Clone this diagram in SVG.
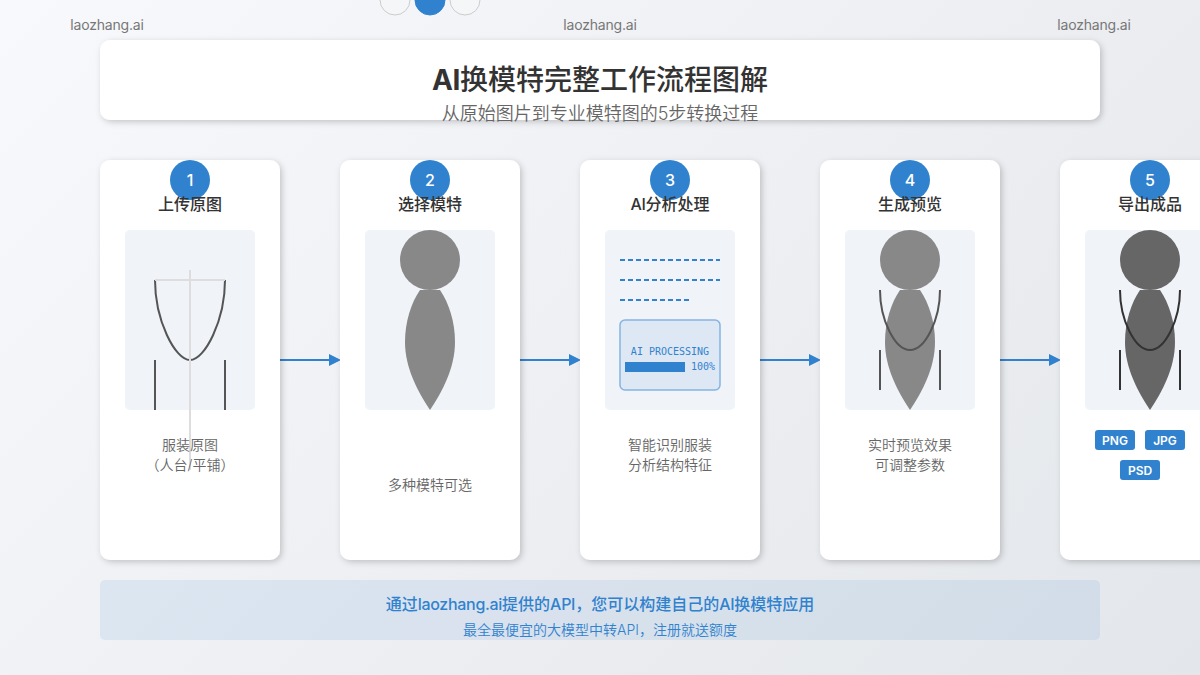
<svg xmlns="http://www.w3.org/2000/svg" width="1200" height="675" viewBox="0 0 1200 675">
<style>
text{font-family:"Inter","Noto Sans CJK SC",sans-serif;text-anchor:middle}
.wm{font-size:14px;fill:#777;letter-spacing:-.2px}
.card{fill:#fff;filter:url(#sh)}
.panel{fill:#f0f3f8}
.badge{fill:#3182ce}
.num{font-size:16px;fill:#fff;font-weight:500}
.ct{font-size:16px;font-weight:500;fill:#333}
.desc{font-size:14px;fill:#666;font-weight:350}
.dress{fill:none;stroke:#555;stroke-width:2}
.tag{fill:#3182ce}
.tagt{font-size:12px;font-weight:600;fill:#fff}
.dash{stroke:#3182ce;stroke-width:2;stroke-dasharray:5 3}
.conn{stroke:#3182ce;stroke-width:2;fill:none;marker-end:url(#arr)}
.b{font-weight:700;letter-spacing:-.5px}
.l{letter-spacing:-.3px}
.mono{font-family:"DejaVu Sans Mono",monospace;font-size:10px;fill:#3182ce}
</style>
<defs>
<linearGradient id="bg" gradientUnits="userSpaceOnUse" x1="131.25" y1="-131.25" x2="1068.75" y2="806.25"><stop offset="0" stop-color="#f8f9fc"/><stop offset="1" stop-color="#e3e6ea"/></linearGradient>
<filter id="sh" x="-10%" y="-10%" width="125%" height="125%"><feDropShadow dx="2" dy="2" stdDeviation="3" flood-color="#000" flood-opacity=".2"/></filter>
<marker id="arr" markerUnits="userSpaceOnUse" markerWidth="12" markerHeight="12" refX="1" refY="6" orient="auto"><path d="M0 0L12 6L0 12Z" fill="#3182ce"/></marker>
<path id="body" d="M420 290C411 303 405 322 405 342C405 368 418 392 430 410C442 392 455 368 455 342C455 322 449 303 440 290Z"/>
</defs>
<rect width="1200" height="675" fill="url(#bg)"/>
<g id="pager">
<circle cx="395" cy="0" r="15" fill="#f5f6f8" stroke="#ccc"/>
<circle cx="430" cy="0" r="15" fill="#3182ce" stroke="#3182ce"/>
<circle cx="465" cy="0" r="15" fill="#f5f6f8" stroke="#ccc"/>
</g>
<g id="watermarks">
<text class="wm" x="107" y="30">laozhang.ai</text>
<text class="wm" x="600" y="30">laozhang.ai</text>
<text class="wm" x="1094" y="30">laozhang.ai</text>
</g>
<g id="header">
<rect class="card" x="100" y="40" width="1000" height="80" rx="10"/>
<text x="600" y="90" font-size="28" font-weight="500" fill="#333"><tspan class="b">AI</tspan>换模特完整工作流程图解</text>
<text x="600" y="120" font-size="18" font-weight="350" fill="#666">从原始图片到专业模特图的5步转换过程</text>
</g>
<g id="connectors">
<line class="conn" x1="280" y1="360" x2="330" y2="360"/>
<line class="conn" x1="520" y1="360" x2="570" y2="360"/>
<line class="conn" x1="760" y1="360" x2="810" y2="360"/>
<line class="conn" x1="1000" y1="360" x2="1050" y2="360"/>
</g>
<g id="step1">
<rect class="card" x="100" y="160" width="180" height="400" rx="10"/>
<circle class="badge" cx="190" cy="180" r="20"/>
<text class="num" x="190" y="186">1</text>
<text class="ct" x="190" y="210">上传原图</text>
<rect class="panel" x="125" y="230" width="130" height="180" rx="5"/>
<path class="dress" d="M155 280C155 320 175 360 190 360C205 360 225 320 225 280"/>
<path class="dress" d="M155 360V410M225 360V410"/>
<path d="M190 270V470M155 280H225" stroke="#ddd" stroke-width="2" fill="none"/>
<text class="desc" x="190" y="450">服装原图</text>
<text class="desc" x="190" y="470">（人台/平铺）</text>
</g>
<g id="step2">
<rect class="card" x="340" y="160" width="180" height="400" rx="10"/>
<circle class="badge" cx="430" cy="180" r="20"/>
<text class="num" x="430" y="186">2</text>
<text class="ct" x="430" y="210">选择模特</text>
<rect class="panel" x="365" y="230" width="130" height="180" rx="5"/>
<circle cx="430" cy="260" r="30" fill="#888"/>
<use href="#body" fill="#888"/>
<text class="desc" x="430" y="490">多种模特可选</text>
</g>
<g id="step3">
<rect class="card" x="580" y="160" width="180" height="400" rx="10"/>
<circle class="badge" cx="670" cy="180" r="20"/>
<text class="num" x="670" y="186">3</text>
<text class="ct" x="670" y="210"><tspan class="l">AI</tspan>分析处理</text>
<rect class="panel" x="605" y="230" width="130" height="180" rx="5"/>
<line class="dash" x1="620" y1="260" x2="720" y2="260"/>
<line class="dash" x1="620" y1="280" x2="720" y2="280"/>
<line class="dash" x1="620" y1="300" x2="690" y2="300"/>
<rect x="620" y="320" width="100" height="70" rx="5" fill="#dde8f4" stroke="#85b4e2" stroke-width="1.5"/>
<text class="mono" x="670" y="355">AI PROCESSING</text>
<rect x="625" y="362" width="60" height="10" fill="#3182ce"/>
<text class="mono" x="703" y="370">100%</text>
<text class="desc" x="670" y="450">智能识别服装</text>
<text class="desc" x="670" y="470">分析结构特征</text>
</g>
<g id="step4">
<rect class="card" x="820" y="160" width="180" height="400" rx="10"/>
<circle class="badge" cx="910" cy="180" r="20"/>
<text class="num" x="910" y="186">4</text>
<text class="ct" x="910" y="210">生成预览</text>
<rect class="panel" x="845" y="230" width="130" height="180" rx="5"/>
<circle cx="910" cy="260" r="30" fill="#888"/>
<use href="#body" x="480" fill="#888"/>
<path d="M880 290C880 320 895 350 910 350C925 350 940 320 940 290" fill="none" stroke="#555" stroke-width="2"/>
<path d="M880 350V390M940 350V390" stroke="#555" stroke-width="2"/>
<text class="desc" x="910" y="450">实时预览效果</text>
<text class="desc" x="910" y="470">可调整参数</text>
</g>
<g id="step5">
<rect class="card" x="1060" y="160" width="180" height="400" rx="10"/>
<circle class="badge" cx="1150" cy="180" r="20"/>
<text class="num" x="1150" y="186">5</text>
<text class="ct" x="1150" y="210">导出成品</text>
<rect class="panel" x="1085" y="230" width="130" height="180" rx="5"/>
<circle cx="1150" cy="260" r="30" fill="#666"/>
<use href="#body" x="720" fill="#666"/>
<path d="M1120 290C1120 320 1135 350 1150 350C1165 350 1180 320 1180 290" fill="none" stroke="#333" stroke-width="2"/>
<path d="M1120 350V390M1180 350V390" stroke="#333" stroke-width="2"/>
<rect class="tag" x="1095" y="430" width="40" height="20" rx="3"/>
<text class="tagt" x="1115" y="445">PNG</text>
<rect class="tag" x="1145" y="430" width="40" height="20" rx="3"/>
<text class="tagt" x="1165" y="445">JPG</text>
<rect class="tag" x="1120" y="460" width="40" height="20" rx="3"/>
<text class="tagt" x="1140" y="475">PSD</text>
</g>
<g id="footer">
<rect x="100" y="580" width="1000" height="60" rx="5" fill="#3182ce" fill-opacity=".1"/>
<text x="600" y="610" font-size="16" font-weight="500" fill="#3182ce">通过<tspan class="l">laozhang.ai</tspan>提供的<tspan class="l">API</tspan>，您可以构建自己的<tspan class="l">AI</tspan>换模特应用</text>
<text x="600" y="635" font-size="14" font-weight="350" fill="#3182ce">最全最便宜的大模型中转API，注册就送额度</text>
</g>
</svg>
